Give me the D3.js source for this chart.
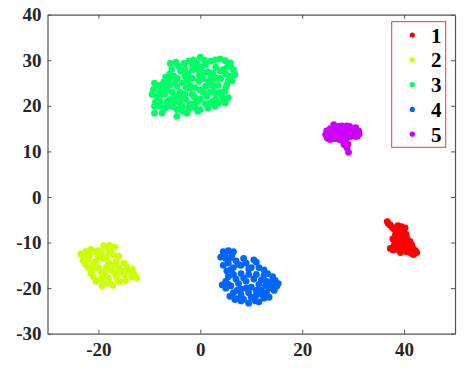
<!DOCTYPE html>
<html>
<head>
<meta charset="utf-8">
<script src="https://cdn.jsdelivr.net/npm/d3@7"></script>
<style>
  body { margin: 0; background: #fff; }
  .tick text { font-family: "Liberation Serif", "Times New Roman", serif; font-weight: bold; font-size: 19px; fill: #262626; }
</style>
</head>
<body>
<div id="container"></div>
<script>
/*
  t-SNE style scatter, 5 clusters
 */
let w = 474;
let h = 371;
let margin = {top: 14.7, right: 19, bottom: 37.3, left: 47.5};

let classNames = ["1", "2", "3", "4", "5"];
let classColors = ["#ff0000", "#ccff00", "#00ff66", "#0066ff", "#cc00ff"];
let xTicks = [-20, 0, 20, 40];
let yTicks = [-30, -20, -10, 0, 10, 20, 30, 40];

// [x, y] per class
let class1 = [[36.7,-5.4],[37.3,-6.2],[38,-7],[39.5,-6.5],[39,-7.5],[38.3,-8.3],[40,-7.8],[40.5,-9],
  [39.2,-9.2],[38.5,-9.8],[40,-10.3],[41,-10.2],[41.5,-11],[42.2,-11.8],[41.3,-12.3],[40.5,-12],
  [39.5,-11.8],[38.5,-11.5],[37.3,-11.3],[38,-10.8],[39,-10.6],[40.8,-11.2],[39.8,-8.5],[41.2,-9.8],
  [42,-12.5],[38.5,-7.5],[37.8,-9.2],[40.2,-6.8],[39.3,-12.2],[40.6,-10.6],[38.8,-9],[41.8,-11.3],
  [36.9,-5.8],[37.7,-6.7],[38.8,-6.3],[39.6,-7.2],[38.9,-8.2],[40.4,-8.2],[39.6,-9.8],[40.8,-9.6],
  [38.2,-10.2],[37.8,-11.6],[39,-11.3],[40.2,-11.5],[41.8,-12.6],[42.5,-12.2],[41.5,-10.5]];
let class2 = [[-23.5,-12.5],[-22.5,-12],[-21.5,-11.5],[-20.5,-12],[-19,-10.7],[-17.8,-10.6],[-16.8,-11],
  [-18,-12],[-20,-13],[-22,-13.5],[-23,-14],[-21,-14.5],[-19,-13.5],[-17,-12.8],[-16.5,-14.2],[-18,-14.5],
  [-20,-15.5],[-22,-15.5],[-21.5,-16.8],[-19.5,-16.5],[-17.5,-16],[-16,-15.5],[-15,-14.5],[-14,-16],
  [-13.3,-15.9],[-12.5,-17.7],[-13.5,-17.5],[-15,-17],[-14.7,-18.3],[-16.5,-17.5],[-18,-17.8],[-19.5,-18],
  [-20.5,-18.5],[-19.3,-19.5],[-17.2,-19.4],[-15.8,-18.6],[-18.5,-15.5],[-20.5,-14],[-16,-13],[-17,-14.8],
  [-21,-17.5],[-18.8,-16.8],[-22.5,-14.8],[-23,-12.8],[-18.2,-11.2],[-15.5,-16.2],[-17.8,-18.8],[-20,-11.8],
  [-22.8,-13.2],[-21.8,-12.8],[-19.5,-12.2],[-18.5,-13.2],[-21,-15.8],[-19,-17.2],[-16.8,-16.5],[-14.5,-15.3],
  [-13,-17],[-16.2,-18.3],[-18.6,-19],[-17.5,-11.5]];
let class3 = [[-5.9,29.3],[-9,25],[-9.2,23.6],[-9.5,22.5],[-9,19.9],[-9,18.4],[-7.5,18.4],[-7.9,21],
  [-6.5,19.9],[-5.9,21.4],[-6.5,23.6],[-6.2,25.7],[-5.2,26.5],[-4.3,28.7],[-3.9,27.6],[-4.6,24.3],
  [-4.9,22.1],[-4.6,17.7],[-4.6,19.2],[-3.6,19.9],[-2.6,18.4],[-2.9,21.4],[-2.3,29.8],[-1.3,30.1],
  [0,30.7],[-0.7,29.4],[-1.6,27.9],[-2.6,25.7],[-2,23.9],[-1.6,22.5],[-1,20.6],[0,19.2],
  [-0.3,25.4],[0.7,27.2],[1,24.3],[1.3,22.1],[2,20.6],[2,29.8],[2.9,30.1],[3.9,30.3],
  [4.9,29.9],[5.9,29.4],[6.5,27.9],[5.9,26.5],[5.2,24.7],[4.3,22.1],[4.9,20.6],[2.9,19.9],
  [3.3,26.1],[2.6,24.3],[3.9,27.6],[1.6,25.4],
  [-8.5,22],[-8,20],[-7,22.5],[-7.5,24],[-6,24.5],[-5.5,23],[-5,21],[-4,23],[-3.5,25],[-3,26.5],
  [-3,22.5],[-2,20.5],[-1,24],[-1.5,26],[-0.5,28],[0.5,26],[0.5,23],[0,21.5],[1,20.5],[1.5,27.5],
  [2,26],[2.5,23],[3,21.5],[3.5,24.5],[4,26],[4.5,28],[4,23],[5,27],[5.5,25.5],[6,28.5],
  [3,28.5],[1,29],[-1,28.8],[-3,28],[-4.5,26],[-6,27],[-2,24.5],[-4,20.5],[-6.5,21],[-3.5,18.8],
  [-1,19.5],[2.5,21],[4.5,21.5],[0,23.5],[1.5,24.5],[-1.5,29],[5,24],[-5,25],[-8,23],[-7,19.5],
  [-8.8,20.8],[-8.2,24.5],[-7.2,25.2],[-6.8,26.3],[-5.6,28],[-4.8,29.6],[-3.2,29.3],[-2.8,24],
  [-3.8,21.8],[-2.3,19.5],[-0.5,18.8],[1.5,19.5],[3.5,20.5],[5.5,21.8],[4.8,23.2],[6.2,25.5],
  [6.8,26.8],[5.3,28.5],[2.5,27.2],[0.2,28.6],[-0.2,26.8],[-1.2,22],[-0.5,21],[1.8,23],
  [3.2,22.8],[2.2,25.3],[0.8,30],[-2.4,27],[-5.5,19.8],[-7.8,22.6]];
let class4 = [[4.5,-12],[5.5,-11.8],[6.5,-12],[4,-13.2],[5,-13.5],[6,-13.3],[7,-14],[5.5,-14.5],
  [4.5,-15],[6.5,-15.5],[8,-15],[9,-14.5],[10.5,-13.8],[10,-15.5],[11.5,-15.5],[12.5,-16],
  [12.5,-17.2],[11,-17],[9.5,-17],[8,-16.8],[6.5,-17],[5.5,-17.5],[5,-18.5],[4.3,-19.3],
  [5,-20],[6,-19.5],[6.5,-21],[7,-22.3],[8,-21.5],[8.5,-22.5],[9.5,-23.3],[10,-22],
  [11.5,-23],[11,-21.5],[12,-20.5],[13,-21],[13.5,-20],[14,-19.5],[15,-19.6],[14.7,-18.3],
  [14.2,-17.5],[13,-18.5],[11.5,-19.2],[10,-19.8],[9,-18.5],[7.5,-19],[8,-20.2],[10.5,-18],
  [12,-18.2],[7,-18],[9.5,-21],[6,-16],[8.5,-13.5],[13.5,-22],[12.5,-22.2],[5.8,-21.8],
  [4.8,-12.8],[6.2,-12.8],[7.5,-14.8],[9.5,-15.8],[11,-14.3],[13.2,-16.8],[14,-18.7],[15.3,-19],
  [12.8,-19.5],[11,-20.5],[9,-20],[7.2,-20.5],[5.5,-19.2],[6.8,-22.5],[8,-22.8],[10.8,-22.8],
  [12.2,-21.5],[14.5,-20.5],[8.5,-17.8],[5.2,-16.2]];
let class5 = [[24.6,13.7],[24.8,14.5],[25.5,15],[26.2,15.9],[27.2,15.5],[28,14.8],[28.8,15.6],[29.8,15],
  [30.5,15.2],[31.1,14.5],[30.8,13.3],[30,14],[29.3,13.2],[28.5,13.8],[27.5,14],[26.5,14.3],
  [25.5,13.5],[25.5,12.6],[26.5,12.8],[27.5,12.5],[28.2,11.5],[28.8,10.8],[29.1,9.8],[26,14.8],
  [27,13.2],[29.5,14.5],[24.9,13],
  [25,14.2],[25.8,14.2],[26.8,15.2],[27.8,15.6],[28.5,15],[29.3,15.5],[30.2,14.6],[31.2,13.8],
  [30.3,13.3],[27.8,13.2],[28.5,12.5],[29,11.6],[26.2,13.5],[25.2,12.8]];
let classPoints = [class1, class2, class3, class4, class5];

let svg = d3.select("div#container").append("svg")
    .attr("width", w).attr("height", h);

let x = d3.scaleLinear().domain([-30, 50]).range([margin.left, w - margin.right]);
let y = d3.scaleLinear().domain([-30, 40]).range([h - margin.bottom, margin.top]);

// points
classPoints.forEach((pts, i) => {
    svg.append("g").selectAll("circle")
        .data(pts)
        .enter()
        .append("circle")
        .attr("cx", d => x(d[0]))
        .attr("cy", d => y(d[1]))
        .attr("r", 3.4)
        .attr("fill", classColors[i]);
});

// axes, ticks pointing inward on all four sides (matlab box)
let axisColor = "#555";
let fmt = d => String(d);   // plain hyphen minus like the original
let axBottom = svg.append("g").attr("transform", "translate(0," + y(-30) + ")")
    .call(d3.axisBottom(x).tickValues(xTicks).tickFormat(fmt).tickSizeInner(-4).tickSizeOuter(0).tickPadding(9));
let axTop = svg.append("g").attr("transform", "translate(0," + y(40) + ")")
    .call(d3.axisTop(x).tickValues(xTicks).tickSizeInner(-4).tickSizeOuter(0).tickFormat(""));
let axLeft = svg.append("g").attr("transform", "translate(" + x(-30) + ",0)")
    .call(d3.axisLeft(y).tickValues(yTicks).tickFormat(fmt).tickSizeInner(-4).tickSizeOuter(0).tickPadding(6));
let axRight = svg.append("g").attr("transform", "translate(" + x(50) + ",0)")
    .call(d3.axisRight(y).tickValues(yTicks).tickSizeInner(-4).tickSizeOuter(0).tickFormat(""));
[axBottom, axTop, axLeft, axRight].forEach(a => {
    a.selectAll("path.domain").attr("stroke", axisColor).attr("stroke-width", 1.2);
    a.selectAll(".tick line").attr("stroke", axisColor);
});

// Legend
let lg = svg.append("g").attr("class", "legend");
lg.append("rect")
    .attr("x", 391.7).attr("y", 21.7)
    .attr("width", 54).attr("height", 125.6)
    .attr("fill", "#fff")
    .attr("stroke", "#ff3030").attr("stroke-width", 1);
classNames.forEach((name, i) => {
    let ry = 35 + i * 24.8;
    lg.append("circle").attr("cx", 412.3).attr("cy", ry).attr("r", 2.6).attr("fill", classColors[i]);
    lg.append("text")
        .attr("x", 431).attr("y", ry + 7.5)
        .style("font-family", "'Liberation Serif', 'Times New Roman', serif")
        .style("font-weight", "bold").style("font-size", "21px").style("fill", "#000")
        .text(name);
});
</script>
</body>
</html>
